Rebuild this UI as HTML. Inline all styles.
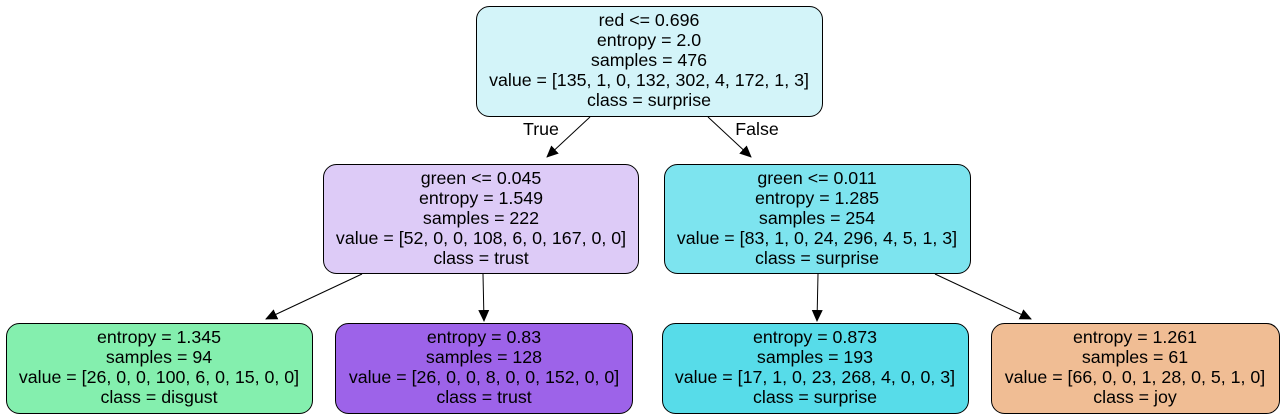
<!DOCTYPE html>
<html><head><meta charset="utf-8"><style>
html,body{margin:0;padding:0;background:#fff;}
svg{display:block;}
text{font-family:"Liberation Sans",Arial,sans-serif;font-size:17.8px;fill:#000;}
</style></head><body>
<svg width="1285" height="419" viewBox="0 0 1285 419">
<defs><marker id="ah" markerWidth="12" markerHeight="12" refX="11" refY="6" orient="auto" markerUnits="userSpaceOnUse"><path d="M0,0.5 L12,6 L0,11.5 z" fill="#000"/></marker></defs>
<g stroke="#000" stroke-width="1" fill="none">
<line x1="590" y1="117" x2="547" y2="157" marker-end="url(#ah)"/>
<line x1="708" y1="117" x2="751" y2="157" marker-end="url(#ah)"/>
<line x1="362" y1="274" x2="266" y2="319" marker-end="url(#ah)"/>
<line x1="483" y1="274" x2="484" y2="321" marker-end="url(#ah)"/>
<line x1="818" y1="274" x2="817" y2="321" marker-end="url(#ah)"/>
<line x1="935" y1="274" x2="1031" y2="319" marker-end="url(#ah)"/>
</g>
<text x="541" y="135" text-anchor="middle">True</text>
<text x="757" y="135" text-anchor="middle">False</text>

<g>
<rect x="476.5" y="6.5" width="346" height="110" rx="13" fill="#d3f4f9" stroke="#000"/>
<text x="649" y="26" text-anchor="middle">red &lt;= 0.696</text>
<text x="649" y="46" text-anchor="middle">entropy = 2.0</text>
<text x="649" y="66" text-anchor="middle">samples = 476</text>
<text x="649" y="86" text-anchor="middle">value = [135, 1, 0, 132, 302, 4, 172, 1, 3]</text>
<text x="649" y="106" text-anchor="middle">class = surprise</text>
</g>
<g>
<rect x="323.5" y="164.5" width="315" height="109" rx="13" fill="#ddcbf7" stroke="#000"/>
<text x="481" y="184" text-anchor="middle">green &lt;= 0.045</text>
<text x="481" y="204" text-anchor="middle">entropy = 1.549</text>
<text x="481" y="224" text-anchor="middle">samples = 222</text>
<text x="481" y="244" text-anchor="middle">value = [52, 0, 0, 108, 6, 0, 167, 0, 0]</text>
<text x="481" y="264" text-anchor="middle">class = trust</text>
</g>
<g>
<rect x="664.5" y="164.5" width="306" height="109" rx="13" fill="#7de4ef" stroke="#000"/>
<text x="817" y="184" text-anchor="middle">green &lt;= 0.011</text>
<text x="817" y="204" text-anchor="middle">entropy = 1.285</text>
<text x="817" y="224" text-anchor="middle">samples = 254</text>
<text x="817" y="244" text-anchor="middle">value = [83, 1, 0, 24, 296, 4, 5, 1, 3]</text>
<text x="817" y="264" text-anchor="middle">class = surprise</text>
</g>
<g>
<rect x="6.5" y="323.5" width="306" height="90" rx="13" fill="#84efae" stroke="#000"/>
<text x="159" y="343" text-anchor="middle">entropy = 1.345</text>
<text x="159" y="363" text-anchor="middle">samples = 94</text>
<text x="159" y="383" text-anchor="middle">value = [26, 0, 0, 100, 6, 0, 15, 0, 0]</text>
<text x="159" y="403" text-anchor="middle">class = disgust</text>
</g>
<g>
<rect x="335.5" y="323.5" width="297" height="90" rx="13" fill="#9d63e9" stroke="#000"/>
<text x="484" y="343" text-anchor="middle">entropy = 0.83</text>
<text x="484" y="363" text-anchor="middle">samples = 128</text>
<text x="484" y="383" text-anchor="middle">value = [26, 0, 0, 8, 0, 0, 152, 0, 0]</text>
<text x="484" y="403" text-anchor="middle">class = trust</text>
</g>
<g>
<rect x="662.5" y="323.5" width="306" height="90" rx="13" fill="#57dce9" stroke="#000"/>
<text x="815" y="343" text-anchor="middle">entropy = 0.873</text>
<text x="815" y="363" text-anchor="middle">samples = 193</text>
<text x="815" y="383" text-anchor="middle">value = [17, 1, 0, 23, 268, 4, 0, 0, 3]</text>
<text x="815" y="403" text-anchor="middle">class = surprise</text>
</g>
<g>
<rect x="991.5" y="323.5" width="288" height="90" rx="13" fill="#f0bd94" stroke="#000"/>
<text x="1135" y="343" text-anchor="middle">entropy = 1.261</text>
<text x="1135" y="363" text-anchor="middle">samples = 61</text>
<text x="1135" y="383" text-anchor="middle">value = [66, 0, 0, 1, 28, 0, 5, 1, 0]</text>
<text x="1135" y="403" text-anchor="middle">class = joy</text>
</g>
</svg>
</body></html>
